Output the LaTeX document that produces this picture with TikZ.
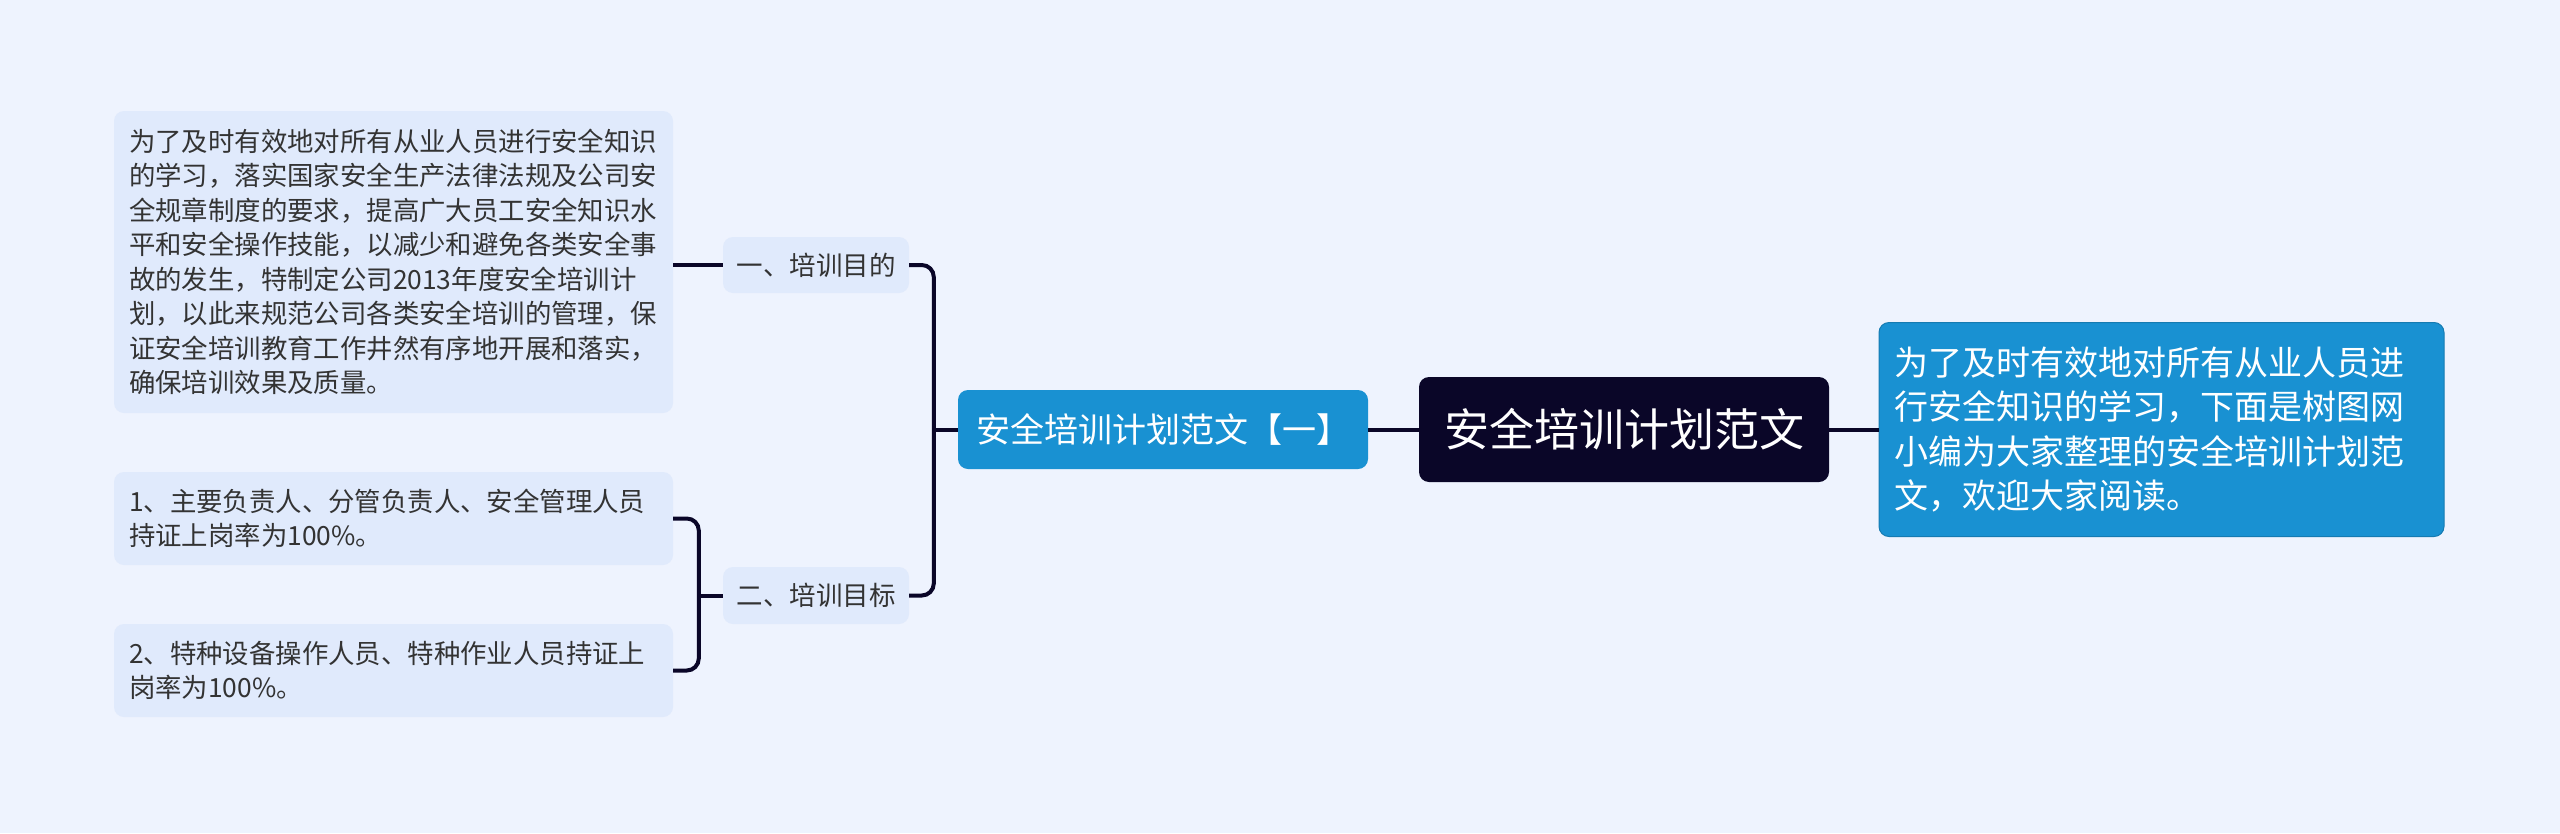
\documentclass[tikz,border=0pt]{standalone}
\usepackage{fontspec}
\setmainfont{Noto Sans CJK SC}
\usetikzlibrary{calc}
\definecolor{bg}{RGB}{238,243,254}
\definecolor{leaf}{RGB}{224,234,252}
\definecolor{blueone}{RGB}{25,145,210}
\definecolor{navy}{RGB}{10,6,40}
\definecolor{txt}{RGB}{51,51,51}
\begin{document}
\begin{tikzpicture}[x=1pt,y=-1pt,
  leafbox/.style={fill=leaf, rounded corners=10pt, text=txt, align=left,
    font=\fontsize{26.4}{34.5}\selectfont, inner xsep=15pt, inner ysep=0pt, text width=529pt},
  labelbox/.style={fill=leaf, rounded corners=10pt, text=txt,
    font=\fontsize{26.5}{32}\selectfont, inner sep=0pt, minimum width=186pt, minimum height=56pt},
  subbox/.style={fill=blueone, rounded corners=10pt, text=white,
    font=\fontsize{34}{40}\selectfont, inner sep=0pt, minimum width=410pt, minimum height=79pt},
  rootbox/.style={fill=navy, rounded corners=10pt, text=white,
    font=\fontsize{45}{52}\selectfont, inner sep=0pt, minimum width=410pt, minimum height=105pt},
  notebox/.style={fill=blueone, draw=blueone!85!black, line width=1pt, rounded corners=10pt, text=white, align=left,
    font=\fontsize{34}{44.6}\selectfont, inner xsep=15pt, inner ysep=0pt, text width=535pt, minimum height=214pt},
  conn/.style={draw=navy, line width=4pt, rounded corners=12pt}
]
\useasboundingbox[fill=bg] (0,0) rectangle (2560,833);

\node[rootbox] (root) at (1624,429.5) {安全培训计划范文};
\node[subbox] (sub) at (1163,429.5) {安全培训计划范文【一】};
\node[notebox] (note) at (2161.5,429.5) {为了及时有效地对所有从业人员进\\行安全知识的学习，下面是树图网\\小编为大家整理的安全培训计划范\\文，欢迎大家阅读。};

\node[labelbox] (t1) at (816,265) {一、培训目的};
\node[labelbox, minimum height=57pt] (t2) at (816,595.5) {二、培训目标};

\node[leafbox, minimum height=302pt] (b1) at (393.5,262) {为了及时有效地对所有从业人员进行安全知识\\的学习，落实国家安全生产法律法规及公司安\\全规章制度的要求，提高广大员工安全知识水\\平和安全操作技能，以减少和避免各类安全事\\故的发生，特制定公司2013年度安全培训计\\划，以此来规范公司各类安全培训的管理，保\\证安全培训教育工作井然有序地开展和落实，\\确保培训效果及质量。};
\node[leafbox, minimum height=93pt] (b2) at (393.5,518.5) {1、主要负责人、分管负责人、安全管理人员\\持证上岗率为100\%。};
\node[leafbox, minimum height=93pt] (b3) at (393.5,670.5) {2、特种设备操作人员、特种作业人员持证上\\岗率为100\%。};

% connectors
\draw[conn] (root.west) -- (sub.east);
\draw[conn] (root.east) -- (note.west);
\coordinate (j1) at ($(sub.west)+(-24,0)$);
\draw[conn] (t1.east) -| (j1) |- (t2.east);
\draw[conn] (sub.west) -- (j1);
\draw[conn] (t1.west) -- (t1.west -| b1.east);
\coordinate (j2) at ($(t2.west)+(-24,0)$);
\draw[conn] (b2.east) -| (j2) |- (b3.east);
\draw[conn] (t2.west) -- (j2);
\end{tikzpicture}
\end{document}
